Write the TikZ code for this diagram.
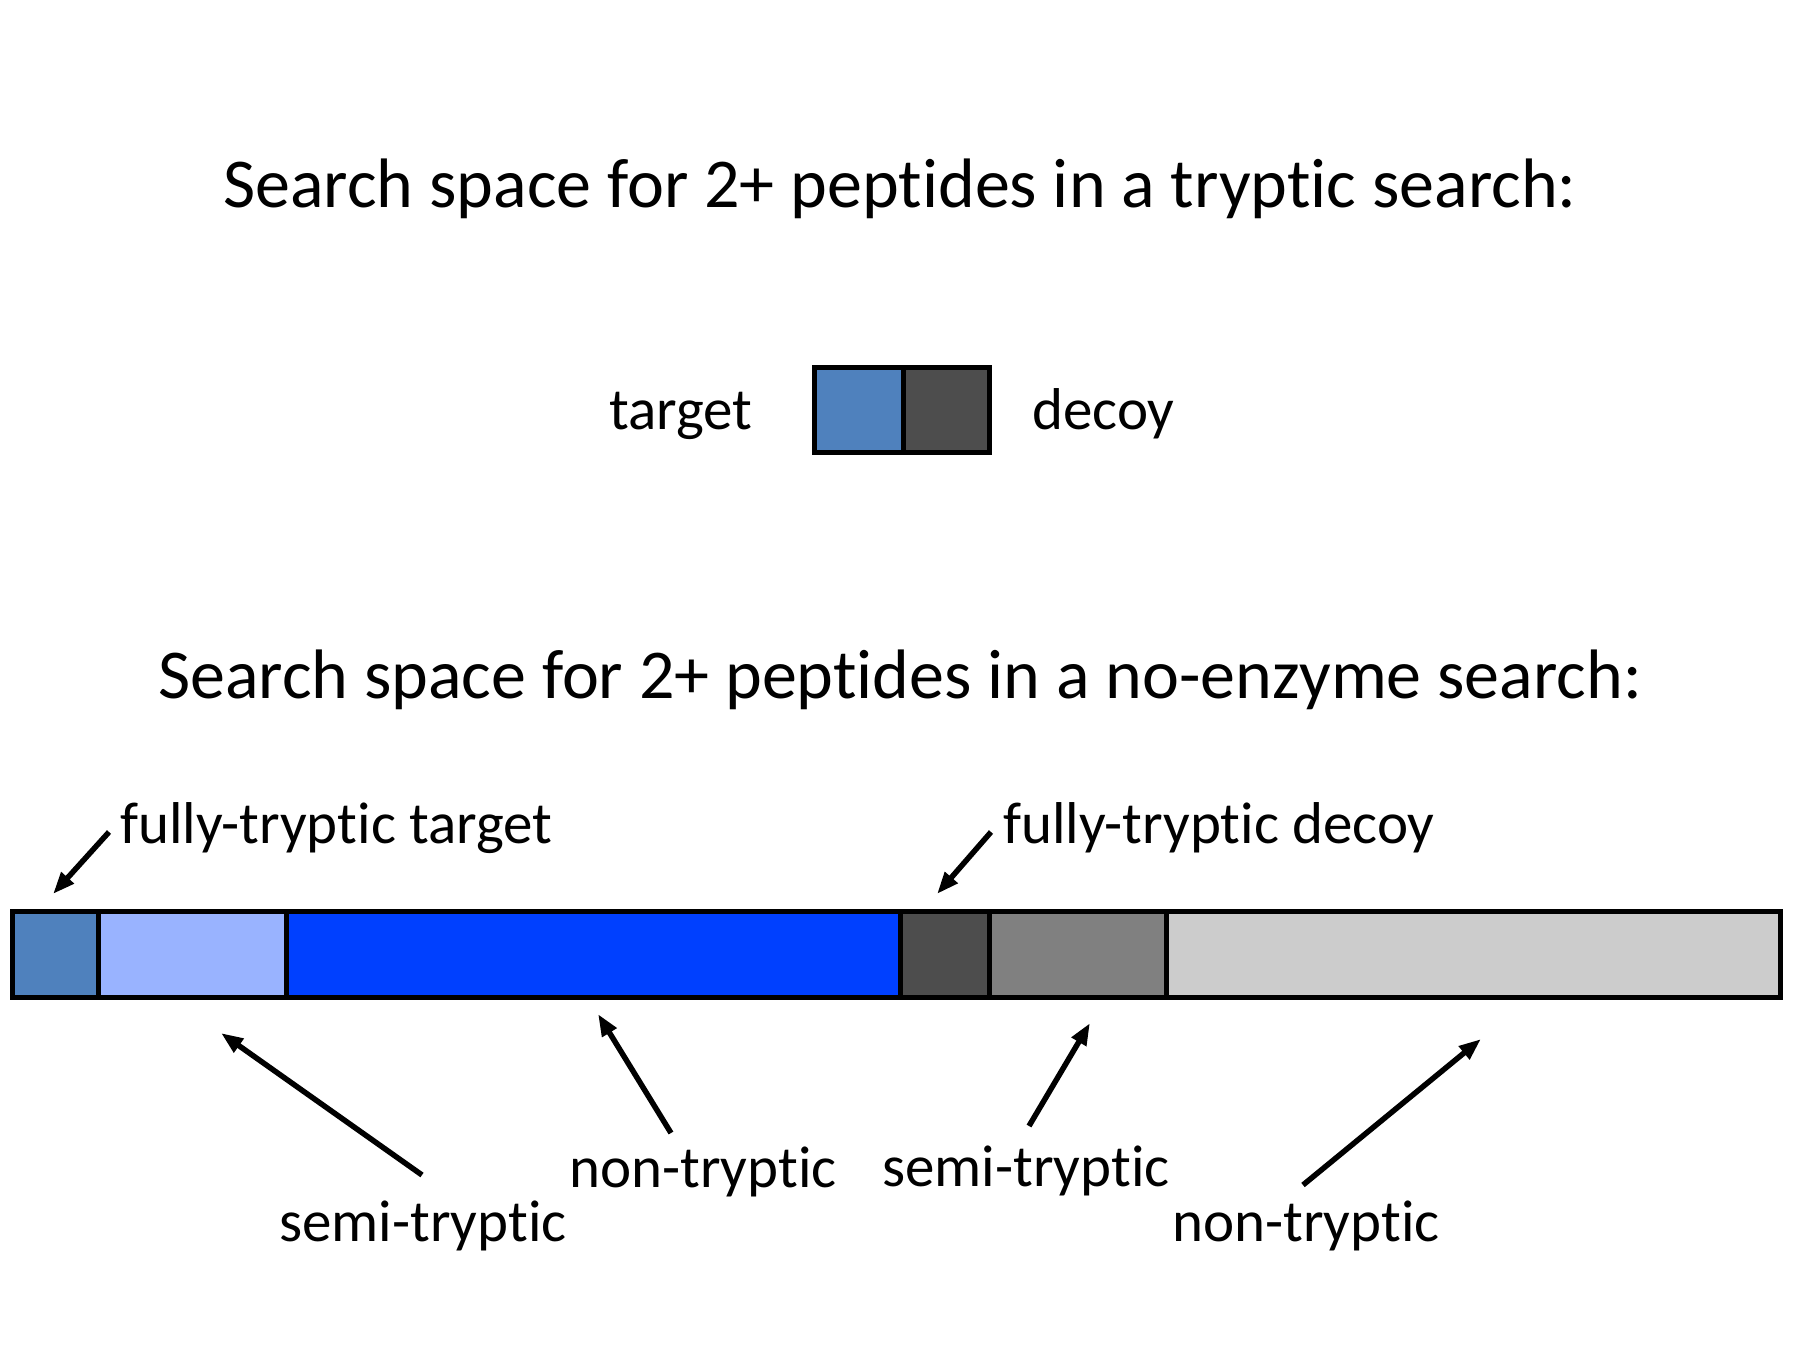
\documentclass[tikz,border=0pt]{standalone}
\usepackage{fontspec}
\setmainfont{Carlito}[Ligatures=NoCommon]
\usetikzlibrary{arrows.meta}
\definecolor{ftt}{HTML}{4F81BD}
\definecolor{stt}{HTML}{99B3FF}
\definecolor{ntt}{HTML}{0040FF}
\definecolor{ftd}{HTML}{4D4D4D}
\definecolor{std}{HTML}{808080}
\definecolor{ntd}{HTML}{CCCCCC}
\tikzset{
  seg/.style={draw=black, line width=5pt, inner sep=0pt, outer sep=0pt, minimum height=85.5pt},
  titletext/.style={inner sep=0pt, anchor=base, font=\fontsize{70}{84}\selectfont},
  lbl/.style={inner sep=0pt, anchor=base west, font=\fontsize{59}{70}\selectfont},
  pointer/.style={line width=5.5pt, -{Triangle[length=22pt,width=16pt]}}
}
\begin{document}
\begin{tikzpicture}[x=1pt,y=-1pt]
\useasboundingbox[fill=white] (0,0) rectangle (1800,1350);
% titles
\node[titletext] (t1) at (900,207) {Search space for 2+ peptides in a tryptic search:};
\node[titletext] (t2) at (900,698) {Search space for 2+ peptides in a no-enzyme search:};
% legend
\node[seg, fill=ftt, minimum width=88.5pt] (legT) at (858.75,410) {};
\node[seg, fill=ftd, minimum width=86.5pt] (legD) at (946.25,410) {};
\node[lbl] (ltarget) at (609,429) {target};
\node[lbl] (ldecoy) at (1032,429) {decoy};
% bar
\node[seg, fill=ftt, minimum width=86.5pt] (s1) at (55.25,954.5) {};
\node[seg, fill=stt, minimum width=187.5pt] (s2) at (192.25,954.5) {};
\node[seg, fill=ntt, minimum width=614pt] (s3) at (593,954.5) {};
\node[seg, fill=ftd, minimum width=89pt] (s4) at (944.5,954.5) {};
\node[seg, fill=std, minimum width=177pt] (s5) at (1077.5,954.5) {};
\node[seg, fill=ntd, minimum width=614pt] (s6) at (1473,954.5) {};
% labels
\node[lbl] (lftt) at (120,843) {fully-tryptic target};
\node[lbl] (lftd) at (1003,843) {fully-tryptic decoy};
\node[lbl] (lstt) at (279,1241) {semi-tryptic};
\node[lbl] (lntt) at (569,1187) {non-tryptic};
\node[lbl] (lstd) at (882,1186) {semi-tryptic};
\node[lbl] (lntd) at (1172,1241) {non-tryptic};
% arrow ends
\coordinate (a1t) at (109,832);  \coordinate (a1h) at (53,894);
\coordinate (a2t) at (991,832);  \coordinate (a2h) at (937,894);
\coordinate (a3t) at (422,1175); \coordinate (a3h) at (221,1033);
\coordinate (a4t) at (671,1133); \coordinate (a4h) at (598,1014);
\coordinate (a5t) at (1029,1126);\coordinate (a5h) at (1090,1023);
\coordinate (a6t) at (1303,1185);\coordinate (a6h) at (1481,1039);
\draw[pointer] (a1t) -- (a1h);
\draw[pointer] (a2t) -- (a2h);
\draw[pointer] (a3t) -- (a3h);
\draw[pointer] (a4t) -- (a4h);
\draw[pointer] (a5t) -- (a5h);
\draw[pointer] (a6t) -- (a6h);
\end{tikzpicture}
\end{document}
